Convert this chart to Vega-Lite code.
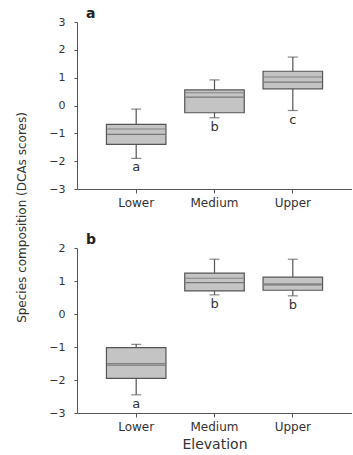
{
  "$schema": "https://vega.github.io/schema/vega-lite/v6.json",
  "padding": {"left": 15, "top": 7, "right": 0, "bottom": 0},
  "autosize": {"type": "pad"},
  "bounds": "flush",
  "spacing": 59,
  "config": {
    "view": {"stroke": null},
    "font": "DejaVu Sans",
    "axis": {"grid": false, "domainColor": "#555", "tickColor": "#555", "labelColor": "#333", "titleColor": "#333", "labelFont": "DejaVu Sans", "labelFontSize": 11, "titleFont": "DejaVu Sans", "titleFontWeight": "normal", "labelOverlap": false, "labelFlush": false},
    "axisY": {"labelOverlap": false, "tickCount": 7},
    "axisQuantitative": {"labelOverlap": false},
    "title": {"anchor": "start", "frame": "group", "fontSize": 14, "fontWeight": "bold", "color": "#222", "offset": -5, "dx": 9}
  },
  "datasets": {
    "a": [
      {"elevation": "Lower", "min": -1.9, "q1": -1.4, "median": -1.04, "mean": -0.84, "q3": -0.68, "max": -0.13, "letter": "a"},
      {"elevation": "Medium", "min": -0.44, "q1": -0.26, "median": 0.3, "mean": 0.46, "q3": 0.56, "max": 0.92, "letter": "b"},
      {"elevation": "Upper", "min": -0.18, "q1": 0.6, "median": 0.84, "mean": 1.02, "q3": 1.23, "max": 1.74, "letter": "c"}
    ],
    "b": [
      {"elevation": "Lower", "min": -2.45, "q1": -1.95, "median": -1.55, "mean": -1.5, "q3": -1.02, "max": -0.92, "letter": "a"},
      {"elevation": "Medium", "min": 0.58, "q1": 0.7, "median": 0.95, "mean": 1.08, "q3": 1.24, "max": 1.66, "letter": "b"},
      {"elevation": "Upper", "min": 0.55, "q1": 0.72, "median": 0.88, "mean": 0.92, "q3": 1.12, "max": 1.66, "letter": "b"}
    ]
  },
  "vconcat": [
    {
      "width": 275,
      "height": 167,
      "title": {"text": "a"},
      "data": {"name": "a"},
      "encoding": {
        "x": {"field": "elevation", "type": "nominal", "sort": ["Lower", "Medium", "Upper"],
          "scale": {"paddingInner": 0.24, "paddingOuter": 0.376},
          "axis": {"labelAngle": 0, "title": null, "tickSize": 4, "labelPadding": 4, "labelFontSize": 12}}
      },
      "layer": [
        {"mark": {"type": "rule", "color": "#555", "strokeWidth": 1.2},
         "encoding": {
           "y": {"field": "min", "type": "quantitative", "scale": {"domain": [-3, 3], "nice": false},
             "axis": {"values": [-3, -2, -1, 0, 1, 2, 3], "labelOverlap": false, "tickSize": 3, "labelPadding": 9, "title": "Species composition (DCAs scores)", "titleFontSize": 12, "titleY": 195, "titlePadding": 20}},
           "y2": {"field": "max"}}},
        {"mark": {"type": "tick", "color": "#555", "size": 10, "thickness": 1.2}, "encoding": {"y": {"field": "max", "type": "quantitative"}}},
        {"mark": {"type": "tick", "color": "#555", "size": 10, "thickness": 1.2}, "encoding": {"y": {"field": "min", "type": "quantitative"}}},
        {"mark": {"type": "bar", "fill": "#c4c4c4", "stroke": "#555", "strokeWidth": 1.2},
         "encoding": {"y": {"field": "q1", "type": "quantitative"}, "y2": {"field": "q3"}}},
        {"mark": {"type": "tick", "color": "#555", "size": 58, "thickness": 1.2}, "encoding": {"y": {"field": "median", "type": "quantitative"}}},
        {"mark": {"type": "tick", "color": "#666", "size": 58, "thickness": 1}, "encoding": {"y": {"field": "mean", "type": "quantitative"}}},
        {"mark": {"type": "text", "baseline": "top", "dy": 3, "fontSize": 13, "color": "#333"},
         "encoding": {"y": {"field": "min", "type": "quantitative"}, "text": {"field": "letter"}}}
      ]
    },
    {
      "width": 275,
      "height": 165,
      "title": {"text": "b"},
      "data": {"name": "b"},
      "encoding": {
        "x": {"field": "elevation", "type": "nominal", "sort": ["Lower", "Medium", "Upper"],
          "scale": {"paddingInner": 0.24, "paddingOuter": 0.376},
          "axis": {"labelAngle": 0, "title": "Elevation", "titleFontSize": 14, "titlePadding": 5, "tickSize": 4, "labelPadding": 4, "labelFontSize": 12}}
      },
      "layer": [
        {"mark": {"type": "rule", "color": "#555", "strokeWidth": 1.2},
         "encoding": {
           "y": {"field": "min", "type": "quantitative", "scale": {"domain": [-3, 2], "nice": false},
             "axis": {"values": [-3, -2, -1, 0, 1, 2], "labelOverlap": false, "tickSize": 3, "labelPadding": 9, "title": null}},
           "y2": {"field": "max"}}},
        {"mark": {"type": "tick", "color": "#555", "size": 10, "thickness": 1.2}, "encoding": {"y": {"field": "max", "type": "quantitative"}}},
        {"mark": {"type": "tick", "color": "#555", "size": 10, "thickness": 1.2}, "encoding": {"y": {"field": "min", "type": "quantitative"}}},
        {"mark": {"type": "bar", "fill": "#c4c4c4", "stroke": "#555", "strokeWidth": 1.2},
         "encoding": {"y": {"field": "q1", "type": "quantitative"}, "y2": {"field": "q3"}}},
        {"mark": {"type": "tick", "color": "#555", "size": 58, "thickness": 1.2}, "encoding": {"y": {"field": "median", "type": "quantitative"}}},
        {"mark": {"type": "tick", "color": "#666", "size": 58, "thickness": 1}, "encoding": {"y": {"field": "mean", "type": "quantitative"}}},
        {"mark": {"type": "text", "baseline": "top", "dy": 3, "fontSize": 13, "color": "#333"},
         "encoding": {"y": {"field": "min", "type": "quantitative"}, "text": {"field": "letter"}}}
      ]
    }
  ]
}
